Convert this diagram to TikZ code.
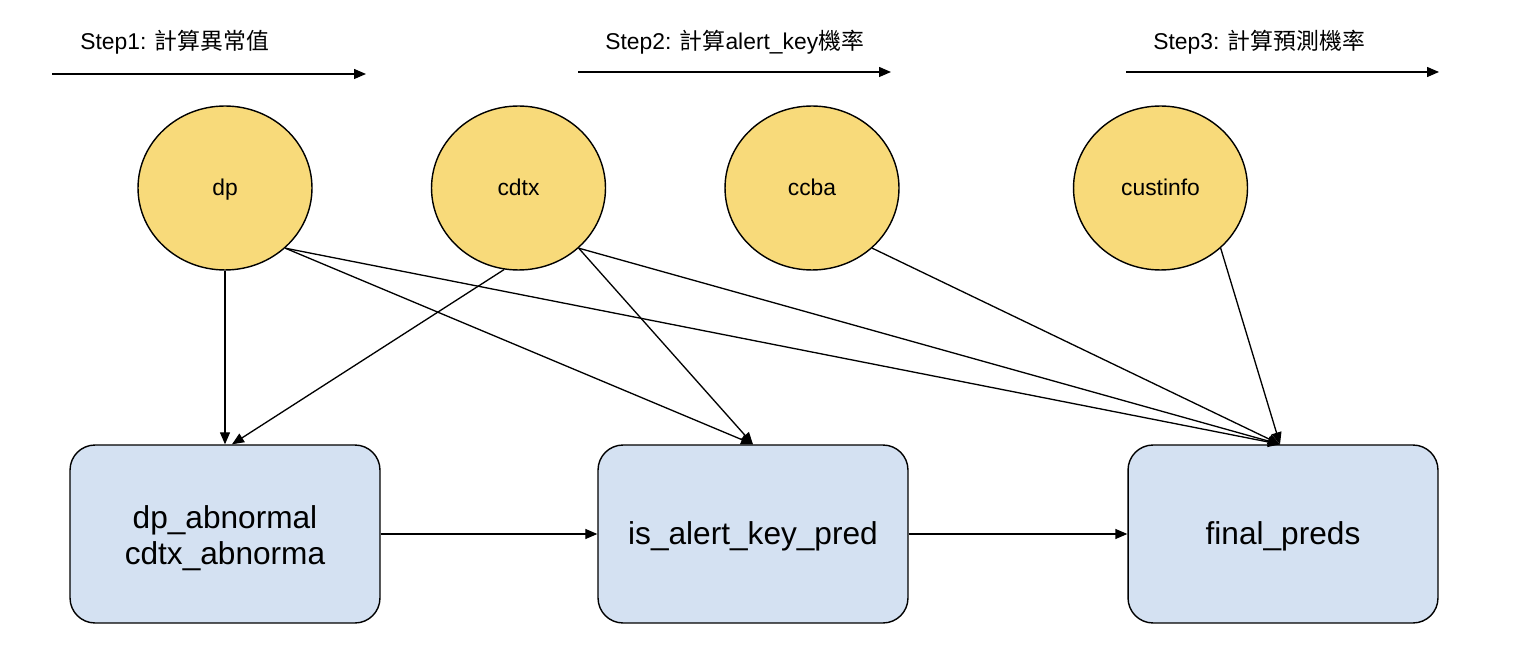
\documentclass[tikz,border=0pt]{standalone}
\usepackage{fontspec}
\setmainfont{Liberation Sans}
\newfontfamily\cjk{Noto Sans CJK TC}
\usetikzlibrary{shapes.geometric,arrows.meta}
\definecolor{ellfill}{HTML}{F8DA7A}
\definecolor{boxfill}{HTML}{D4E1F2}
\tikzset{
  src/.style={ellipse,draw=black,line width=0.8pt,fill=ellfill,minimum width=3.48cm,minimum height=3.28cm,inner sep=0pt,text height=9.5pt,text depth=1.5pt,font=\fontsize{13}{15.6}\selectfont},
  stagebox/.style={rectangle,rounded corners=0.5cm,draw=black,line width=0.8pt,fill=boxfill,minimum width=6.2cm,minimum height=3.56cm,inner sep=0pt,align=center,font=\fontsize{18}{20.4}\selectfont},
  oneline/.style={text height=15pt,text depth=2.6pt},
  stagetext/.style={inner sep=0pt,align=center,font=\fontsize{18}{20.4}\selectfont},
  steplabel/.style={anchor=west,inner sep=0pt,font=\fontsize{13}{15.6}\selectfont},
  conn/.style={line width=0.75pt,-{Triangle[length=0.24cm,width=0.2cm]}}
}
\begin{document}
\begin{tikzpicture}[x=0.02cm,y=-0.02cm]
\useasboundingbox (0,0) rectangle (1530,668);
% step labels and arrows
\node[steplabel] (s1) at (80,42) {Step1: {\cjk 計算異常值}};
\node[steplabel] (s2) at (605,42) {Step2: {\cjk 計算}alert\_key{\cjk 機率}};
\node[steplabel] (s3) at (1153,42) {Step3: {\cjk 計算預測機率}};
\coordinate (a1s) at (52,74);  \coordinate (a1e) at (366,74);
\coordinate (a2s) at (578,72); \coordinate (a2e) at (891,72);
\coordinate (a3s) at (1126,72); \coordinate (a3e) at (1439,72);
\draw[conn] (a1s) -- (a1e);
\draw[conn] (a2s) -- (a2e);
\draw[conn] (a3s) -- (a3e);
% sources
\node[src] (dp) at (225,188) {dp};
\node[src] (cdtx) at (518.5,188) {cdtx};
\node[src] (ccba) at (812,188) {ccba};
\node[src] (cust) at (1160.5,188) {custinfo};
% stages
\node[stagebox,label={[stagetext,yshift=-0.08cm]center:dp\_abnormal\\cdtx\_abnorma}] (abn) at (225,534) {};
\node[stagebox,oneline] (ial) at (753,534) {is\_alert\_key\_pred};
\node[stagebox,oneline] (fin) at (1283,534) {final\_preds};
% connectors
\draw[conn] (dp.south) -- (abn.north);
\draw[conn] (cdtx.-100) -- ([xshift=0.14cm]abn.north);
\draw[conn] (dp.-45) -- (ial.north);
\draw[conn] (cdtx.-45) -- (ial.north);
\draw[conn] (dp.-45) -- ([xshift=-0.06cm]fin.north);
\draw[conn] (cdtx.-45) -- ([xshift=-0.06cm]fin.north);
\draw[conn] (ccba.-45) -- ([xshift=-0.06cm]fin.north);
\draw[conn] (cust.-45) -- ([xshift=-0.06cm]fin.north);
\draw[conn] (abn.east) -- (ial.west);
\draw[conn] (ial.east) -- (fin.west);
\end{tikzpicture}
\end{document}
